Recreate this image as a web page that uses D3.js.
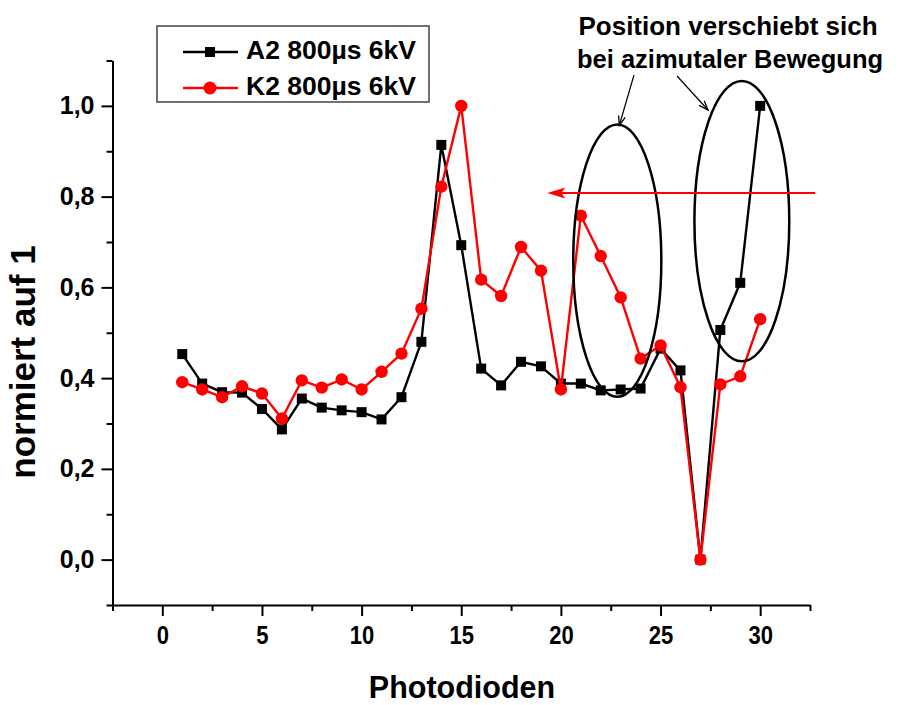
<!DOCTYPE html>
<html><head><meta charset="utf-8">
<script src="https://cdn.jsdelivr.net/npm/d3@7"></script>
<style>
body{margin:0;background:#fff}
text{font-family:"Liberation Sans",Arial,sans-serif;font-weight:bold;fill:#000}
</style>
</head><body>
<svg id="c" width="905" height="705"></svg>
<script>
// ---- data ----
const photodioden = [1,2,3,4,5,6,7,8,9,10,11,12,13,14,15,16,17,18,19,20,21,22,23,24,25,26,27,28,29,30];
const a2Values = [0.453,0.388,0.369,0.368,0.332,0.287,0.355,0.335,0.329,0.325,0.309,0.358,0.480,0.914,0.693,0.421,0.384,0.436,0.426,0.388,0.388,0.373,0.375,0.377,0.465,0.417,0.000,0.506,0.610,1.000];
const k2Values = [0.391,0.375,0.358,0.382,0.366,0.311,0.395,0.379,0.397,0.375,0.414,0.454,0.553,0.822,1.000,0.617,0.581,0.689,0.637,0.375,0.758,0.669,0.578,0.443,0.472,0.380,0.000,0.386,0.404,0.530];
const seriesNames = ["A2 800\u00b5s 6kV","K2 800\u00b5s 6kV"];
const xMajorTicks = [0,5,10,15,20,25,30];
const xMinorTicks = [-2.5,2.5,7.5,12.5,17.5,22.5,27.5,32.5];
const yMajorTicks = [0,0.2,0.4,0.6,0.8,1.0];
const yMinorTicks = [-0.1,0.1,0.3,0.5,0.7,0.9,1.1];
const yTickLabels = ["0,0","0,2","0,4","0,6","0,8","1,0"];
const xTitle = "Photodioden";
const yTitle = "normiert auf 1";
const noteLines = ["Position verschiebt sich","bei azimutaler Bewegung"];
// annotation ellipses in data units: [cx, cy, rx, ry]
const ellipses = [[22.83,0.659,2.21,0.300],[29.08,0.746,2.38,0.309]];
// red arrow in data units: from x1 to x2 at y
const redArrow = {x1:32.76, x2:19.32, y:0.808};

// ---- chart ----
const svg = d3.select("#c");
const x = d3.scaleLinear().domain([-2.5,32.5]).range([112.5,810]);
const y = d3.scaleLinear().domain([-0.1,1.1]).range([605,60.5]);

// axes
const yAxis = svg.append("g").attr("transform","translate(112.5,0)")
  .call(d3.axisLeft(y).tickValues(yMajorTicks).tickSize(11).tickSizeOuter(0).tickPadding(7)
    .tickFormat((d,i)=>yTickLabels[i]));
svg.append("g").attr("transform","translate(112.5,0)")
  .call(d3.axisLeft(y).tickValues(yMinorTicks).tickSize(6).tickSizeOuter(0).tickFormat(""))
  .select(".domain").remove();
const xAxis = svg.append("g").attr("transform","translate(0,605)")
  .call(d3.axisBottom(x).tickValues(xMajorTicks).tickSize(11).tickSizeOuter(0).tickPadding(10));
svg.append("g").attr("transform","translate(0,605)")
  .call(d3.axisBottom(x).tickValues(xMinorTicks).tickSize(6).tickSizeOuter(0).tickFormat(""))
  .select(".domain").remove();
svg.selectAll(".domain, .tick line").attr("stroke","#000").attr("stroke-width",2);
yAxis.selectAll("text").attr("font-size",25).attr("font-family","Liberation Sans, Arial").attr("font-weight","bold").attr("fill","#000");
xAxis.selectAll("text").attr("font-size",25).attr("font-family","Liberation Sans, Arial").attr("font-weight","bold").attr("fill","#000")
  .attr("transform","scale(0.88,1)");

// axis titles
svg.append("text").attr("transform","translate(35,362) rotate(-90)").attr("text-anchor","middle")
  .attr("font-size",35).text(yTitle);
svg.append("text").attr("x",462).attr("y",698).attr("text-anchor","middle")
  .attr("font-size",30.5).text(xTitle);

// series
const a2 = photodioden.map((p,i)=>({x:p,y:a2Values[i]}));
const k2 = photodioden.map((p,i)=>({x:p,y:k2Values[i]}));
const line = d3.line().x(d=>x(d.x)).y(d=>y(d.y));

svg.append("path").datum(a2).attr("d",line).attr("fill","none").attr("stroke","#000").attr("stroke-width",2.4);
svg.append("g").selectAll("rect").data(a2).join("rect")
  .attr("x",d=>x(d.x)-5).attr("y",d=>y(d.y)-5).attr("width",10).attr("height",10).attr("fill","#000");

svg.append("path").datum(k2).attr("d",line).attr("fill","none").attr("stroke","#f00").attr("stroke-width",2.4);
svg.append("g").selectAll("circle").data(k2).join("circle")
  .attr("cx",d=>x(d.x)).attr("cy",d=>y(d.y)).attr("r",6.2).attr("fill","#f00");

// annotations: ellipses
svg.append("g").selectAll("ellipse").data(ellipses).join("ellipse")
  .attr("cx",d=>x(d[0])).attr("cy",d=>y(d[1]))
  .attr("rx",d=>x(d[0]+d[2])-x(d[0])).attr("ry",d=>y(d[1]-d[3])-y(d[1]))
  .attr("fill","none").attr("stroke","#000").attr("stroke-width",2.5);

// red arrow
const ax1=x(redArrow.x1), ax2=x(redArrow.x2), ay=y(redArrow.y);
svg.append("line").attr("x1",ax1).attr("x2",ax2+12).attr("y1",ay).attr("y2",ay)
  .attr("stroke","#f00").attr("stroke-width",2.2);
svg.append("path").attr("d",`M${ax2},${ay} L${ax2+18},${ay-5.5} L${ax2+14},${ay} L${ax2+18},${ay+5.5} Z`).attr("fill","#f00");

// note text
svg.append("text").attr("x",728).attr("y",35).attr("text-anchor","middle").attr("font-size",26).text(noteLines[0]);
svg.append("text").attr("x",730).attr("y",68).attr("text-anchor","middle").attr("font-size",25.5).text(noteLines[1]);

// pointer lines with arrowheads
function pointer(x1,y1,x2,y2){
  svg.append("line").attr("x1",x1).attr("y1",y1).attr("x2",x2).attr("y2",y2).attr("stroke","#000").attr("stroke-width",1.2);
  const ang=Math.atan2(y2-y1,x2-x1), L=10, w=0.35;
  const p1=[x2-L*Math.cos(ang-w), y2-L*Math.sin(ang-w)], p2=[x2-L*Math.cos(ang+w), y2-L*Math.sin(ang+w)];
  svg.append("path").attr("d",`M${p1} L${x2},${y2} L${p2}`).attr("fill","none").attr("stroke","#000").attr("stroke-width",1.3);
}
pointer(634,75, x(ellipses[0][0])+2, y(ellipses[0][1]+ellipses[0][3])+1);
pointer(677,76, 708,110);

// legend
const lg = svg.append("g");
lg.append("rect").attr("x",157).attr("y",26).attr("width",272).attr("height",76)
  .attr("fill","#fff").attr("stroke","#444").attr("stroke-width",1.5);
const rows=[{n:seriesNames[0],c:"#000",m:"sq",y:52},{n:seriesNames[1],c:"#f00",m:"ci",y:88}];
rows.forEach(r=>{
  lg.append("line").attr("x1",183).attr("x2",238).attr("y1",r.y).attr("y2",r.y).attr("stroke",r.c).attr("stroke-width",2.4);
  if(r.m==="sq") lg.append("rect").attr("x",210-5).attr("y",r.y-5).attr("width",10).attr("height",10).attr("fill",r.c);
  else lg.append("circle").attr("cx",210).attr("cy",r.y).attr("r",6.5).attr("fill",r.c);
  lg.append("text").attr("x",246).attr("y",r.y+7).attr("font-size",26.5).text(r.n);
});
</script>
</body></html>
